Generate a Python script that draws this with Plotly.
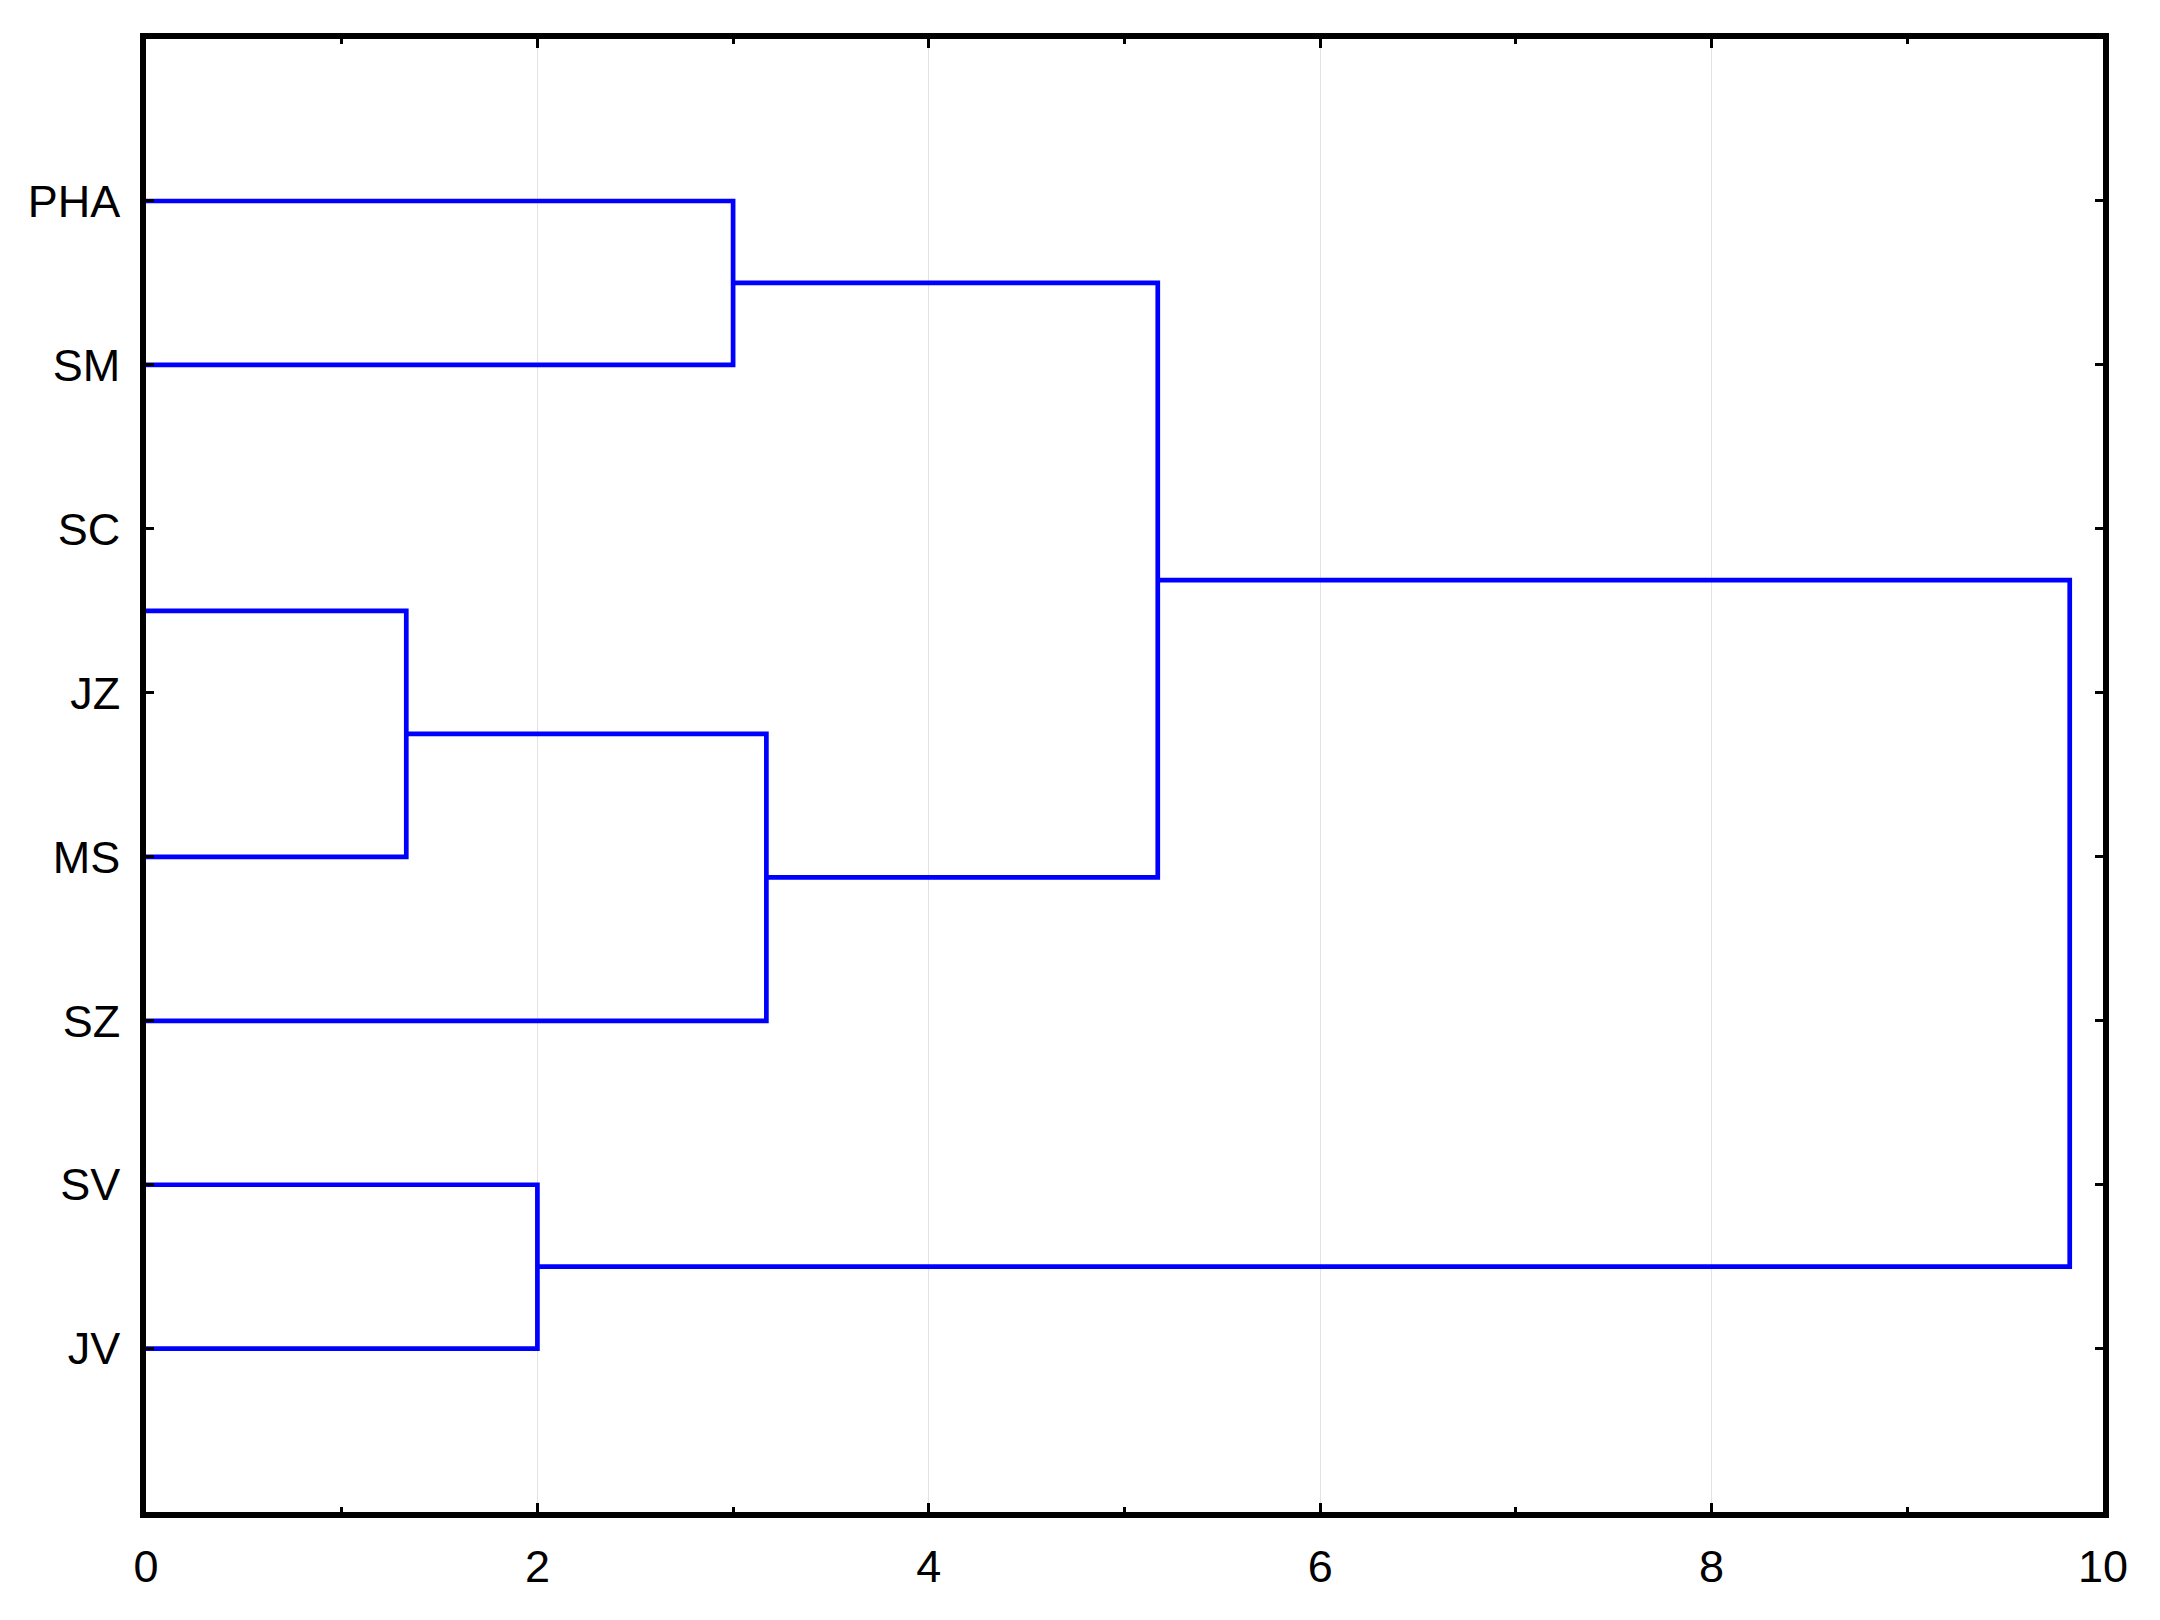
import plotly.graph_objects as go

# Leaf labels, top to bottom (positions 1..8)
labels = ["PHA", "SM", "SC", "JZ", "MS", "SZ", "SV", "JV"]
label_pos = [1, 2, 3, 4, 5, 6, 7, 8]

# Dendrogram links (U-shaped connectors): merge distance, child positions, child distances
merge_height = [3.0, 1.33, 3.17, 5.17, 2.0, 9.83]
child1_pos = [1.0, 3.5, 4.25, 1.5, 7.0, 3.3125]
child2_pos = [2.0, 5.0, 6.0, 5.125, 8.0, 7.5]
child1_dist = [0.0, 0.0, 1.33, 3.0, 0.0, 5.17]
child2_dist = [0.0, 0.0, 0.0, 3.17, 0.0, 2.0]

x_ticks = [0, 2, 4, 6, 8, 10]

xs, ys = [], []
for h, p1, p2, d1, d2 in zip(merge_height, child1_pos, child2_pos, child1_dist, child2_dist):
    xs += [d1, h, h, d2, None]
    ys += [p1, p1, p2, p2, None]

fig = go.Figure()
fig.add_trace(go.Scatter(x=xs, y=ys, mode="lines",
                         line=dict(color="#0000ff", width=4.7),
                         hoverinfo="skip", showlegend=False))

font = dict(family="Liberation Sans, Arial, sans-serif", size=45, color="black")

fig.update_layout(
    width=2160, height=1620,
    margin=dict(l=138, r=65, t=31, b=116),
    paper_bgcolor="white", plot_bgcolor="white",
    font=font,
    showlegend=False,
)
fig.update_xaxes(
    range=[0, 10], tickvals=x_ticks, ticktext=[str(v) for v in x_ticks],
    showline=True, linecolor="black", linewidth=5.5, mirror="ticks",
    ticks="inside", ticklen=9, tickwidth=3, tickcolor="black",
    minor=dict(dtick=1, ticks="inside", ticklen=5, tickwidth=3, tickcolor="black", showgrid=False),
    showgrid=True, gridcolor="#e3e3e3", gridwidth=1,
    zeroline=False, tickfont=font, ticklabelstandoff=10,
)
fig.update_yaxes(
    range=[8.996, 0.012], tickvals=label_pos, ticktext=labels,
    showline=True, linecolor="black", linewidth=5.5, mirror="ticks",
    ticks="inside", ticklen=8, tickwidth=3, tickcolor="black",
    showgrid=False, zeroline=False, tickfont=font, ticklabelstandoff=11,
)

fig.write_html("out.html")
